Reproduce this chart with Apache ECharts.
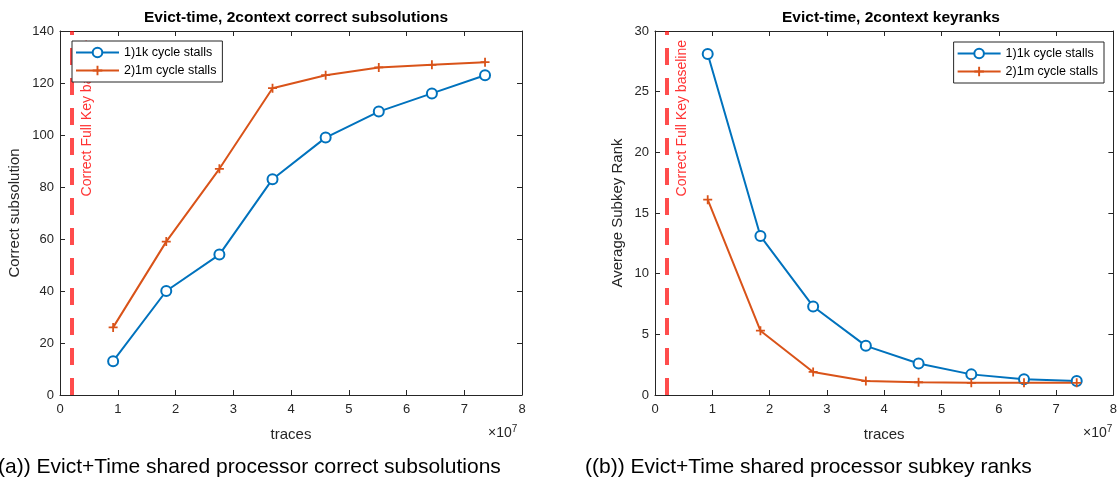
<!DOCTYPE html>
<html>
<head>
<meta charset="utf-8">
<script src="https://cdn.jsdelivr.net/npm/echarts@6/dist/echarts.min.js"></script>
<style>
  html, body { margin: 0; padding: 0; background: #fff; }
  #main { width: 1120px; height: 479px; }
</style>
</head>
<body>
<div id="main"></div>
<script>
// x values are in units of 1e7 traces (axis shows "x10^7")
const traces = [0.92, 1.84, 2.76, 3.68, 4.6, 5.52, 6.44, 7.36]
const xTicks = [0, 1, 2, 3, 4, 5, 6, 7, 8]
const seriesNames = ['1)1k cycle stalls', '2)1m cycle stalls']
const subsolutions1k = [13, 40, 54, 83, 99, 109, 116, 123]
const subsolutions1m = [26, 59, 87, 118, 123, 126, 127, 128]
const keyrank1k = [28.1, 13.1, 7.3, 4.05, 2.6, 1.7, 1.3, 1.15]
const keyrank1m = [16.1, 5.3, 1.9, 1.15, 1.05, 1.0, 1.0, 1.0]
const baselineX = 0.2
const baselineLabel = 'Correct Full Key baseline'

const FONT = '"Liberation Sans", Arial, Helvetica, sans-serif'
const BLUE = '#0072BD'
const ORANGE = '#D95319'
const AXIS = '#262626'
const PLUS = 'path://M4,0H6V4H10V6H6V10H4V6H0V4H4Z'

const pairs = ys => traces.map((x, i) => [x, ys[i]])

const chart = echarts.init(document.getElementById('main'))

function xAxes(gridIndex) {
  const base = {
    gridIndex, type: 'value', min: xTicks[0], max: xTicks[xTicks.length - 1], interval: 1,
    splitLine: { show: false },
    axisLine: { show: true, onZero: false, lineStyle: { color: AXIS, width: 1 } },
    axisTick: { show: true, inside: true, length: 5, lineStyle: { color: AXIS } }
  }
  return [
    Object.assign({}, base, {
      position: 'bottom',
      name: 'traces', nameLocation: 'middle', nameGap: 32,
      nameTextStyle: { fontFamily: FONT, fontSize: 15, color: AXIS },
      axisLabel: { fontFamily: FONT, fontSize: 13, color: AXIS, margin: 8 }
    }),
    Object.assign({}, base, { position: 'top', axisLabel: { show: false } })
  ]
}

function yAxes(gridIndex, max, interval, name, gap) {
  const base = {
    gridIndex, type: 'value', min: 0, max, interval,
    splitLine: { show: false },
    axisLine: { show: true, onZero: false, lineStyle: { color: AXIS, width: 1 } },
    axisTick: { show: true, inside: true, length: 5, lineStyle: { color: AXIS } }
  }
  return [
    Object.assign({}, base, {
      position: 'left',
      name, nameLocation: 'middle', nameGap: gap,
      nameTextStyle: { fontFamily: FONT, fontSize: 15, color: AXIS },
      axisLabel: { fontFamily: FONT, fontSize: 13, color: AXIS, margin: 6 }
    }),
    Object.assign({}, base, { position: 'right', axisLabel: { show: false } })
  ]
}

function lineSeries(name, data, xIdx, yIdx, isBlue, withBaseline) {
  const s = {
    name, type: 'line', xAxisIndex: xIdx, yAxisIndex: yIdx,
    data: pairs(data),
    color: isBlue ? BLUE : ORANGE,
    lineStyle: { width: 2, color: isBlue ? BLUE : ORANGE },
    symbol: isBlue ? 'emptyCircle' : PLUS,
    symbolSize: isBlue ? 10 : 9,
    itemStyle: isBlue ? { color: BLUE, borderColor: BLUE, borderWidth: 1.8 } : { color: ORANGE },
    emphasis: { disabled: true }
  }
  if (withBaseline) {
    s.markLine = {
      silent: true, symbol: 'none', animation: false,
      lineStyle: { color: 'rgba(255,0,0,0.7)', width: 4, type: [17, 13] },
      label: {
        show: true, formatter: baselineLabel, position: 'insideEndBottom', distance: 9,
        color: '#ff3333', fontFamily: FONT, fontSize: 14
      },
      data: [{ xAxis: baselineX }]
    }
  }
  return s
}

const legendBase = {
  orient: 'vertical', itemWidth: 43, itemHeight: 12, itemGap: 5,
  backgroundColor: '#fff', borderColor: AXIS, borderWidth: 1,
  padding: [5, 6, 5, 3], zlevel: 1, z: 10,
  textStyle: { fontFamily: FONT, fontSize: 12.5, color: '#000' },
  data: seriesNames
}

const sup = { s: { fontSize: 10, verticalAlign: 'top', padding: [0, 0, 8, 0] } }

chart.setOption({
  animation: false,
  title: [
    { text: 'Evict-time, 2context correct subsolutions', left: 291, top: 5, textAlign: 'center',
      textStyle: { fontFamily: FONT, fontSize: 15.5, fontWeight: 'bold', color: '#000' } },
    { text: 'Evict-time, 2context keyranks', left: 886, top: 5, textAlign: 'center',
      textStyle: { fontFamily: FONT, fontSize: 15.5, fontWeight: 'bold', color: '#000' } },
    { text: '(a)) Evict+Time shared processor correct subsolutions', left: -7, top: 452,
      textStyle: { fontFamily: FONT, fontSize: 21, fontWeight: 'normal', color: '#000' } },
    { text: '((b)) Evict+Time shared processor subkey ranks', left: 580, top: 452,
      textStyle: { fontFamily: FONT, fontSize: 21, fontWeight: 'normal', color: '#000' } }
  ],
  graphic: [
    { type: 'text', left: 488, top: 424, style: { text: '×10{s|7}', fontFamily: FONT, fontSize: 14, fill: AXIS, rich: sup } },
    { type: 'text', left: 1083, top: 424, style: { text: '×10{s|7}', fontFamily: FONT, fontSize: 14, fill: AXIS, rich: sup } }
  ],
  legend: [
    Object.assign({}, legendBase, { left: 72, top: 41 }),
    Object.assign({}, legendBase, { right: 16, top: 42 })
  ],
  grid: [
    { left: 60, top: 31, width: 462, height: 364 },
    { left: 655, top: 31, width: 460, height: 364 }
  ],
  xAxis: xAxes(0).concat(xAxes(1)),
  yAxis: yAxes(0, 140, 20, 'Correct subsolution', 38).concat(yAxes(1, 30, 5, 'Average Subkey Rank', 30)),
  series: [
    lineSeries(seriesNames[0], subsolutions1k, 0, 0, true, true),
    lineSeries(seriesNames[1], subsolutions1m, 0, 0, false, false),
    lineSeries(seriesNames[0], keyrank1k, 2, 2, true, true),
    lineSeries(seriesNames[1], keyrank1m, 2, 2, false, false)
  ]
})
</script>
</body>
</html>
